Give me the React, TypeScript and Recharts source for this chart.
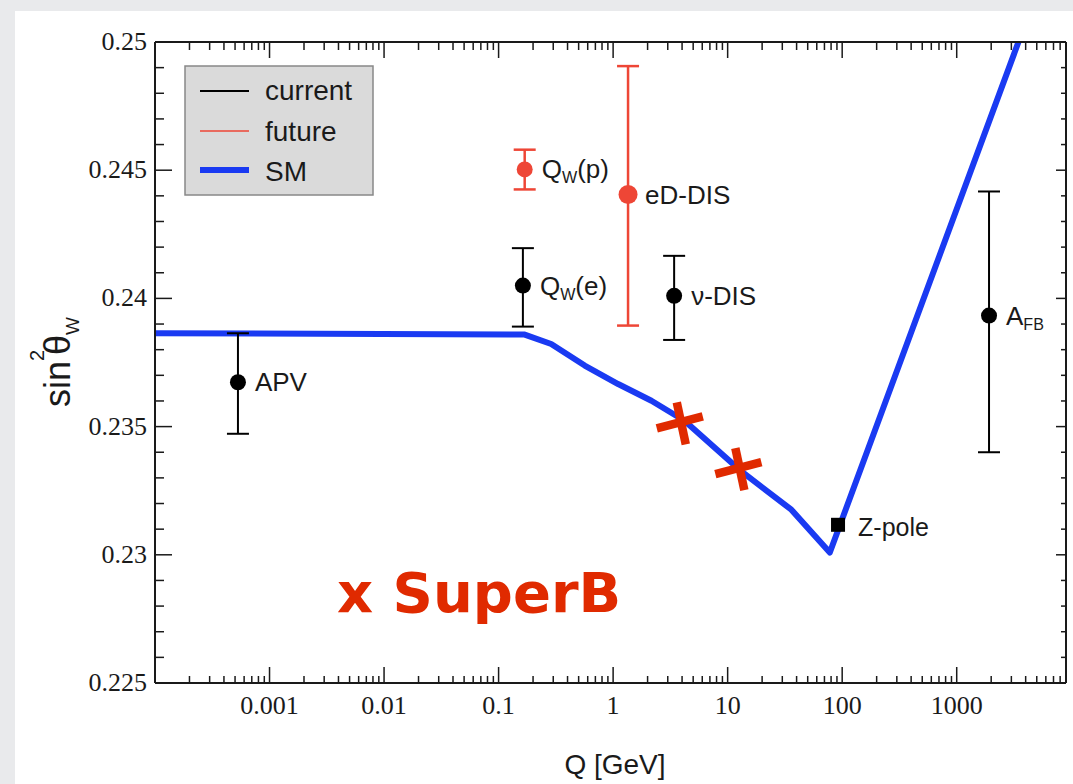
import React from "react";
import { ComposedChart, Line, Scatter, XAxis, YAxis, ErrorBar, Customized } from "recharts";

// Standard Model running of sin^2(theta_W) vs Q
const smQ = [0.0001, 0.169, 0.288, 0.565, 1.106, 2.16, 4.2, 13.2, 36, 78, 3460];
const smValue = [0.23864, 0.23859, 0.23822, 0.23738, 0.23666, 0.23601, 0.23523, 0.23325, 0.23176, 0.23009, 0.25];

// current measurements (black)
const currentLabels = ["APV", "Q_{W}(e)", "ν-DIS", "A_{FB}"];
const currentQ = [0.00053, 0.163, 3.41, 1915];
const currentValue = [0.23673, 0.2405, 0.2401, 0.23933];
const currentLow = [0.23472, 0.2389, 0.23838, 0.234];
const currentHigh = [0.23864, 0.24196, 0.24166, 0.24417];

// future measurements (red)
const futureLabels = ["Q_{W}(p)", "eD-DIS"];
const futureQ = [0.169, 1.35];
const futureValue = [0.24503, 0.24405];
const futureLow = [0.24425, 0.23894];
const futureHigh = [0.2458, 0.24906];

const zPoleQ = [92];
const zPoleValue = [0.23117];

const superBQ = [3.82, 12.4];
const superBValue = [0.23513, 0.23334];

// axes
const xMajorTicks = [0.001, 0.01, 0.1, 1, 10, 100, 1000];
const xMajorLabels = ["0.001", "0.01", "0.1", "1", "10", "100", "1000"];
const xDecades = [0.0001, 0.001, 0.01, 0.1, 1, 10, 100, 1000];
const xMinorSteps = [2, 3, 4, 5, 6, 7, 8, 9];
const yMajorTicks = [0.225, 0.23, 0.235, 0.24, 0.245, 0.25];
const yMajorLabels = ["0.225", "0.23", "0.235", "0.24", "0.245", "0.25"];
const yMinorTicks = [
  0.226, 0.227, 0.228, 0.229, 0.231, 0.232, 0.233, 0.234, 0.236, 0.237,
  0.238, 0.239, 0.241, 0.242, 0.243, 0.244, 0.246, 0.247, 0.248, 0.249,
];

const xTicks = [
  ...xMajorTicks,
  ...xDecades.flatMap((d) => xMinorSteps.map((s) => d * s)),
];
const yTicks = [...yMajorTicks, ...yMinorTicks];

const smData = smQ.map((q, i) => ({ q, v: smValue[i] }));
const currentData = currentQ.map((q, i) => ({
  q,
  v: currentValue[i],
  err: [currentValue[i] - currentLow[i], currentHigh[i] - currentValue[i]],
  label: currentLabels[i],
}));
const futureData = futureQ.map((q, i) => ({
  q,
  v: futureValue[i],
  err: [futureValue[i] - futureLow[i], futureHigh[i] - futureValue[i]],
  label: futureLabels[i],
}));
const zPoleData = zPoleQ.map((q, i) => ({ q, v: zPoleValue[i], label: "Z-pole" }));
const superBData = superBQ.map((q, i) => ({ q, v: superBValue[i] }));

const SANS = "'Liberation Sans', Arial, sans-serif";
const SERIF = "'Liberation Serif', 'Times New Roman', serif";
const BLUE = "#1a3af2";
const RED = "#ee4636";
const SUPERB = "#e02a00";
const INK = "#1a1a1a";

const findMajor = (v: number, list: number[]) =>
  list.findIndex((m) => Math.abs(m - v) / m < 1e-6);

function RichLabel({ x, y, text, size = 26 }: any) {
  const parts = String(text).split(/_\{([^}]*)\}/);
  return (
    <text x={x} y={y} fontFamily={SANS} fontSize={size} fill={INK} dominantBaseline="central">
      {parts.map((p, k) =>
        k % 2 === 1 ? (
          <tspan key={k} fontSize={size * 0.62} dy={8}>{p}</tspan>
        ) : (
          <tspan key={k} dy={k > 0 ? -8 : 0}>{p}</tspan>
        )
      )}
    </text>
  );
}

const BottomTick = (p: any) => {
  const i = findMajor(p.payload.value, xMajorTicks);
  return (
    <g>
      <line x1={p.x} x2={p.x} y1={p.y} y2={p.y - (i >= 0 ? 16 : 7)} stroke={INK} strokeWidth={1.5} />
      {i >= 0 && (
        <text x={p.x} y={p.y + 31} textAnchor="middle" fontFamily={SERIF} fontSize={26} fill={INK}>
          {xMajorLabels[i]}
        </text>
      )}
    </g>
  );
};

const TopTick = (p: any) => {
  const i = findMajor(p.payload.value, xMajorTicks);
  return <line x1={p.x} x2={p.x} y1={p.y} y2={p.y + (i >= 0 ? 16 : 8)} stroke={INK} strokeWidth={1.5} />;
};

const LeftTick = (p: any) => {
  const i = findMajor(p.payload.value, yMajorTicks);
  return (
    <g>
      <line x1={p.x} x2={p.x + (i >= 0 ? 17 : 9)} y1={p.y} y2={p.y} stroke={INK} strokeWidth={1.5} />
      {i >= 0 && (
        <text x={p.x - 8} y={p.y + 8} textAnchor="end" fontFamily={SERIF} fontSize={26} fill={INK}>
          {yMajorLabels[i]}
        </text>
      )}
    </g>
  );
};

const RightTick = (p: any) => {
  const i = findMajor(p.payload.value, yMajorTicks);
  return <line x1={p.x} x2={p.x - (i >= 0 ? 10 : 5)} y1={p.y} y2={p.y} stroke={INK} strokeWidth={1.5} />;
};

const dotShape = (color: string) => (p: any) => (
  <g>
    <circle cx={p.cx} cy={p.cy} r={p.payload.label === "eD-DIS" ? 9.5 : 8} fill={color} />
    <RichLabel x={p.cx + 17} y={p.cy} text={p.payload.label} />
  </g>
);

const squareShape = (p: any) => (
  <g>
    <rect x={p.cx - 7} y={p.cy - 7} width={14} height={14} fill="#000" />
    <RichLabel x={p.cx + 20} y={p.cy + 2} text={p.payload.label} size={25} />
  </g>
);

const crossShape = (p: any) => (
  <g stroke={SUPERB} strokeWidth={8.5}>
    <line x1={p.cx - 3} y1={p.cy - 21} x2={p.cx + 6} y2={p.cy + 21} />
    <line x1={p.cx - 23} y1={p.cy + 5} x2={p.cx + 23} y2={p.cy - 7} />
  </g>
);

const Decorations = () => (
  <g>
    {/* legend */}
    <rect x={185} y={66} width={188} height={129} fill="#dadada" stroke="#888" strokeWidth={1.5} />
    <line x1={200} x2={249} y1={91} y2={91} stroke="#000" strokeWidth={2} />
    <line x1={200} x2={249} y1={131} y2={131} stroke={RED} strokeWidth={1.5} />
    <line x1={200} x2={249} y1={170} y2={170} stroke={BLUE} strokeWidth={6} />
    <g fontFamily={SANS} fontSize={28} fill={INK}>
      <text x={265} y={100}>current</text>
      <text x={265} y={141}>future</text>
      <text x={265} y={181}>SM</text>
    </g>
    {/* axis titles */}
    <text x={615} y={774} textAnchor="middle" fontFamily={SANS} fontSize={28} fill={INK}>
      Q [GeV]
    </text>
    <text x={70} y={362} transform="rotate(-90 70 362)" textAnchor="middle" fontFamily={SANS} fontSize={36} fill={INK}>
      sin
      <tspan fontSize={20} dy={-26}>2</tspan>
      <tspan dy={26} dx={-5}>θ</tspan>
      <tspan fontSize={19} dy={9}>W</tspan>
    </text>
    <text x={337} y={612} fontFamily="'DejaVu Sans', sans-serif" fontWeight="bold" fontSize={56} fill={SUPERB}>
      x SuperB
    </text>
  </g>
);

export default function App() {
  return (
    <div style={{ position: "absolute", left: 0, top: 0, width: 1073, height: 784, background: "#e9eaec", overflow: "hidden" }}>
      <div style={{ position: "absolute", left: 15, top: 11, right: 0, bottom: 0, background: "#fff" }} />
      <div style={{ position: "absolute", left: 0, top: 0 }}>
        <ComposedChart width={1073} height={784} margin={{ top: 41, right: 6, bottom: 41, left: 55 }}>
          <XAxis
            xAxisId={0}
            type="number"
            dataKey="q"
            scale="log"
            domain={[0.0001, 9000]}
            allowDataOverflow
            ticks={xTicks}
            interval={0}
            tick={BottomTick}
            tickLine={false}
            tickSize={0}
            tickMargin={0}
            height={60}
            axisLine={{ stroke: INK, strokeWidth: 2 }}
          />
          <XAxis
            xAxisId="top"
            orientation="top"
            type="number"
            dataKey="q"
            scale="log"
            domain={[0.0001, 9000]}
            allowDataOverflow
            ticks={xTicks}
            interval={0}
            tick={TopTick}
            tickLine={false}
            tickSize={0}
            tickMargin={0}
            height={1}
            axisLine={{ stroke: INK, strokeWidth: 2 }}
          />
          <YAxis
            yAxisId={0}
            type="number"
            domain={[0.225, 0.25]}
            allowDataOverflow
            ticks={yTicks}
            interval={0}
            tick={LeftTick}
            tickLine={false}
            tickSize={0}
            tickMargin={0}
            width={100}
            axisLine={{ stroke: INK, strokeWidth: 2 }}
          />
          <YAxis
            yAxisId="right"
            orientation="right"
            type="number"
            domain={[0.225, 0.25]}
            allowDataOverflow
            ticks={yTicks}
            interval={0}
            tick={RightTick}
            tickLine={false}
            tickSize={0}
            tickMargin={0}
            width={1}
            axisLine={{ stroke: INK, strokeWidth: 2 }}
          />
          <Line
            data={smData}
            dataKey="v"
            type="linear"
            stroke={BLUE}
            strokeWidth={6}
            strokeLinejoin="round"
            dot={false}
            isAnimationActive={false}
          />
          <Scatter data={currentData} dataKey="v" shape={dotShape("#000")} isAnimationActive={false}>
            <ErrorBar dataKey="err" direction="y" width={11} stroke="#000" strokeWidth={2} />
          </Scatter>
          <Scatter data={futureData} dataKey="v" shape={dotShape(RED)} isAnimationActive={false}>
            <ErrorBar dataKey="err" direction="y" width={11} stroke={RED} strokeWidth={2.5} />
          </Scatter>
          <Scatter data={zPoleData} dataKey="v" shape={squareShape} isAnimationActive={false} />
          <Scatter data={superBData} dataKey="v" shape={crossShape} isAnimationActive={false} />
          <Customized component={<Decorations />} />
        </ComposedChart>
      </div>
    </div>
  );
}
